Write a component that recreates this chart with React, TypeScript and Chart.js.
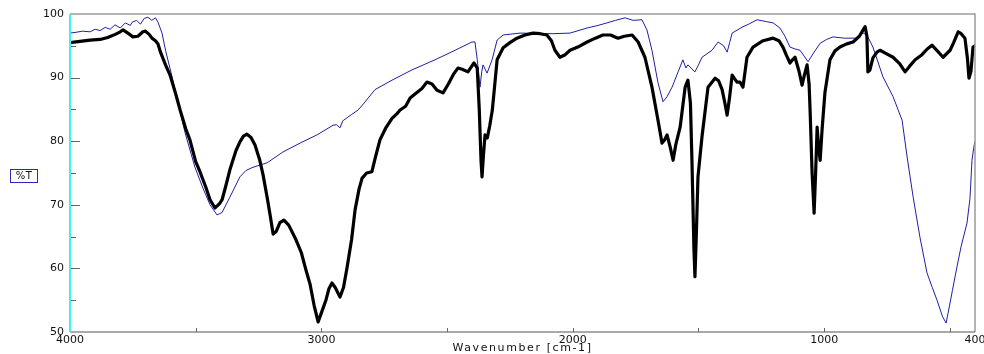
import React, { useEffect, useRef } from "react";
import { Chart, registerables } from "chart.js";

Chart.register(...registerables);

// Wavenumber (cm-1) and transmittance (%T) pairs for the sample spectrum (thick trace)
const sampleWavenumbers = [
  4000, 3960, 3920, 3880, 3850, 3820, 3800, 3789, 3770, 3750, 3730, 3710, 3700, 3685, 3674, 3660, 3650,
  3640, 3620, 3602, 3580, 3562, 3540, 3523, 3500, 3483, 3460, 3443, 3423, 3405, 3395, 3380, 3364, 3340,
  3324, 3310, 3296, 3280, 3264, 3245, 3232, 3215, 3204, 3192, 3180, 3165, 3149, 3130, 3101, 3080, 3061,
  3045, 3029, 3013, 3000, 2982, 2970, 2958, 2945, 2926, 2912, 2898, 2880, 2866, 2850, 2838, 2820, 2799,
  2785, 2767, 2745, 2719, 2700, 2687, 2665, 2647, 2625, 2600, 2580, 2560, 2540, 2516, 2495, 2475, 2457,
  2440, 2417, 2405, 2393, 2380, 2372, 2365, 2361, 2355, 2349, 2340, 2330, 2320, 2301, 2277, 2250, 2222,
  2190, 2158, 2130, 2103, 2085, 2071, 2051, 2030, 2011, 1980, 1943, 1910, 1880, 1850, 1820, 1795, 1764,
  1740, 1713, 1685, 1661, 1645, 1635, 1625, 1612, 1601, 1590, 1573, 1553, 1542, 1532, 1526, 1518, 1514,
  1508, 1502, 1486, 1462, 1434, 1420, 1406, 1395, 1386, 1376, 1366, 1356, 1347, 1335, 1323, 1307, 1283,
  1243, 1203, 1180, 1164, 1150, 1136, 1126, 1116, 1100, 1088, 1078, 1068, 1060, 1056, 1048, 1040, 1034,
  1028, 1022, 1016, 1008, 997, 977, 957, 937, 910, 885, 860, 845, 837, 830, 826, 818, 806, 790, 778, 755,
  726, 700, 678, 660, 638, 611, 590, 571, 550, 527, 499, 485, 467, 455, 440, 430, 424, 416, 408, 400,
];
const sampleTransmittance = [
  95.5, 95.7, 95.9, 96.0, 96.3, 96.8, 97.2, 97.5, 97.0, 96.4, 96.5, 97.2, 97.3, 96.8, 96.2, 95.8, 95.3,
  94.0, 92.0, 90.4, 87.5, 84.9, 82.0, 80.2, 76.8, 75.2, 72.8, 70.8, 69.5, 70.2, 70.8, 73.0, 75.5, 78.5,
  79.9, 80.8, 81.1, 80.6, 79.4, 77.0, 74.7, 71.0, 68.4, 65.4, 65.8, 67.2, 67.6, 66.8, 64.5, 62.5, 59.7,
  57.5, 54.2, 51.6, 53.0, 55.0, 56.8, 57.7, 57.0, 55.5, 57.0, 60.1, 64.5, 69.2, 72.5, 74.2, 75.0, 75.2,
  77.5, 80.2, 82.0, 83.6, 84.3, 84.9, 85.5, 86.8, 87.5, 88.3, 89.3, 89.0, 88.0, 87.6, 89.0, 90.5, 91.5,
  91.3, 90.9, 91.6, 92.3, 91.5, 85.0, 77.0, 74.4, 78.0, 81.0, 80.5, 82.5, 84.9, 92.8, 94.7, 95.5, 96.2,
  96.7, 97.0, 96.9, 96.7, 95.8, 94.3, 93.2, 93.6, 94.3, 94.8, 95.6, 96.2, 96.7, 96.7, 96.2, 96.5, 96.7,
  95.6, 93.2, 88.5, 83.3, 79.7, 80.2, 81.0, 79.0, 77.0, 79.5, 82.2, 88.5, 89.6, 86.0, 77.0, 63.0, 58.7,
  66.0, 74.4, 80.7, 88.5, 89.9, 89.5, 88.1, 86.0, 84.1, 87.0, 90.4, 89.8, 89.3, 89.3, 88.5, 93.2, 94.8,
  95.8, 96.2, 95.8, 94.8, 93.5, 92.3, 92.8, 93.2, 91.0, 88.8, 90.5, 92.0, 89.0, 84.9, 75.0, 68.7, 75.0,
  82.2, 79.0, 77.0, 82.0, 87.6, 92.8, 94.2, 94.8, 95.3, 95.6, 96.5, 97.5, 98.0, 96.5, 90.9, 91.2, 93.1,
  94.0, 94.3, 93.8, 93.2, 92.2, 90.9, 91.8, 92.8, 93.6, 94.5, 95.1, 94.2, 93.2, 94.3, 95.5, 97.2, 96.9,
  96.2, 93.0, 89.9, 91.0, 94.8, 95.0,
];

// Reference spectrum (thin trace)
const referenceWavenumbers = [
  4000, 3980, 3950, 3920, 3900, 3880, 3860, 3840, 3821, 3800, 3780, 3760, 3753, 3735, 3720, 3705, 3690,
  3675, 3660, 3650, 3634, 3620, 3594, 3570, 3542, 3503, 3470, 3443, 3415, 3395, 3364, 3324, 3300, 3272,
  3216, 3153, 3085, 3017, 2954, 2940, 2926, 2915, 2880, 2854, 2830, 2787, 2719, 2640, 2548, 2468, 2401,
  2389, 2380, 2369, 2362, 2357, 2341, 2321, 2301, 2277, 2210, 2079, 2011, 1943, 1900, 1864, 1830, 1792,
  1760, 1725, 1705, 1685, 1661, 1641, 1625, 1605, 1580, 1562, 1550, 1542, 1514, 1500, 1486, 1446, 1422,
  1400, 1386, 1376, 1366, 1323, 1300, 1267, 1230, 1203, 1176, 1156, 1136, 1116, 1096, 1080, 1064, 1040,
  1016, 990, 965, 920, 869, 845, 830, 806, 766, 726, 690, 670, 646, 619, 591, 570, 551, 530, 515, 507,
  490, 472, 455, 432, 420, 412, 405, 400,
];
const referenceTransmittance = [
  97.0, 97.1, 97.3, 97.2, 97.6, 97.4, 97.9, 97.6, 98.3, 97.8, 98.6, 98.2, 98.7, 99.0, 98.4, 99.3, 99.5,
  99.0, 99.4, 98.7, 97.0, 94.3, 90.1, 86.0, 81.3, 75.9, 72.5, 70.0, 68.4, 68.8, 71.2, 74.4, 75.4, 75.9,
  76.6, 78.3, 79.7, 81.0, 82.5, 82.6, 82.1, 83.2, 84.2, 84.9, 86.0, 88.1, 89.6, 91.2, 92.8, 94.3, 95.6,
  95.6, 92.8, 88.5, 91.0, 92.0, 90.7, 92.8, 95.9, 96.7, 97.0, 96.9, 97.0, 97.8, 98.2, 98.6, 99.0, 99.4,
  99.0, 99.1, 97.5, 94.3, 89.2, 86.2, 87.0, 88.5, 91.0, 92.8, 91.5, 92.0, 90.9, 92.0, 93.2, 94.3, 95.6,
  95.0, 94.0, 95.5, 97.0, 98.0, 98.4, 99.1, 98.8, 98.6, 97.8, 96.5, 94.8, 94.5, 94.3, 93.4, 92.5, 94.0,
  95.4, 96.0, 96.4, 96.2, 96.2, 97.0, 96.7, 94.8, 90.1, 87.0, 83.3, 77.5, 71.2, 64.9, 59.3, 57.0, 55.0,
  52.5, 51.4, 53.0, 56.5, 60.2, 63.5, 67.1, 71.0, 77.0, 79.0, 80.0,
];

// Axis ticks
const xTickValues = [4000, 3500, 3000, 2500, 2000, 1500, 1000, 500, 400];
const xTickLabels = [4000, 3000, 2000, 1000, 400];
const yMajorTicks = [50, 60, 70, 80, 90, 100];

const FONT = "'DejaVu Sans', sans-serif";

const toPoints = (xs: number[], ys: number[]) => xs.map((x, i) => ({ x, y: ys[i] }));

// Frame, inward tick marks, axis title and the boxed "%T" label
const framePlugin = {
  id: "spectrumFrame",
  afterDraw(chart: any) {
    const { ctx, chartArea } = chart;
    const { left, right, top, bottom } = chartArea;
    const xs = chart.scales.x;
    const ys = chart.scales.y;
    ctx.save();

    // top and right borders
    ctx.strokeStyle = "#9a9a9a";
    ctx.lineWidth = 1.5;
    ctx.beginPath();
    ctx.moveTo(left, top);
    ctx.lineTo(right, top);
    ctx.lineTo(right, bottom);
    ctx.stroke();

    // bottom axis
    ctx.strokeStyle = "#555";
    ctx.lineWidth = 1.2;
    ctx.beginPath();
    ctx.moveTo(left, bottom);
    ctx.lineTo(right, bottom);
    ctx.stroke();

    // inward tick marks
    ctx.strokeStyle = "#666";
    ctx.lineWidth = 1;
    for (let v = 55; v < 100; v += 5) {
      const y = Math.round(ys.getPixelForValue(v)) + 0.5;
      const len = v % 10 === 0 ? 9 : 5;
      ctx.beginPath();
      ctx.moveTo(left + 1, y);
      ctx.lineTo(left + 1 + len, y);
      ctx.stroke();
    }
    for (const v of xTickValues) {
      if (v === 4000 || v === 400) continue;
      const x = Math.round(xs.getPixelForValue(v)) + 0.5;
      ctx.beginPath();
      ctx.moveTo(x, bottom);
      ctx.lineTo(x, bottom - 4);
      ctx.stroke();
    }

    // left axis line
    ctx.strokeStyle = "#3ff0f0";
    ctx.lineWidth = 2;
    ctx.beginPath();
    ctx.moveTo(left, top);
    ctx.lineTo(left, bottom);
    ctx.stroke();

    // x axis title
    ctx.fillStyle = "#111";
    ctx.font = `11px ${FONT}`;
    (ctx as any).letterSpacing = "1.6px";
    ctx.textAlign = "center";
    ctx.textBaseline = "middle";
    ctx.fillText("Wavenumber [cm-1]", (left + right) / 2, 348);

    // boxed y label
    const midY = ys.getPixelForValue(74.5);
    ctx.strokeStyle = "#2a2ab8";
    ctx.lineWidth = 1;
    ctx.strokeRect(10.5, Math.round(midY) - 6.5, 27, 13);
    ctx.fillStyle = "#111";
    ctx.font = `10px ${FONT}`;
    (ctx as any).letterSpacing = "0.5px";
    ctx.fillText("%T", 24, Math.round(midY) + 0.5);
    ctx.restore();
  },
};

export default function App() {
  const canvasRef = useRef<HTMLCanvasElement | null>(null);

  useEffect(() => {
    document.body.style.margin = "0";
    const canvas = canvasRef.current;
    if (!canvas) return;
    const chart = new Chart(canvas, {
      type: "line",
      data: {
        datasets: [
          {
            label: "Sample",
            data: toPoints(sampleWavenumbers, sampleTransmittance),
            borderColor: "#000000",
            borderWidth: 3.2,
            pointRadius: 0,
            tension: 0,
            borderJoinStyle: "round",
            borderCapStyle: "round",
          },
          {
            label: "Reference",
            data: toPoints(referenceWavenumbers, referenceTransmittance),
            borderColor: "#1f1fa3",
            borderWidth: 1,
            pointRadius: 0,
            tension: 0,
          },
        ],
      },
      options: {
        animation: false,
        responsive: false,
        devicePixelRatio: 1,
        layout: { padding: { left: 0, right: 9, top: 14, bottom: 0 } },
        plugins: {
          legend: { display: false },
          tooltip: { enabled: false },
        },
        scales: {
          x: {
            type: "linear",
            reverse: true,
            min: 400,
            max: 4000,
            border: { display: false },
            grid: { display: false, drawTicks: false },
            afterBuildTicks: (scale: any) => {
              scale.ticks = xTickValues.map((value) => ({ value }));
            },
            afterFit: (scale: any) => {
              scale.height = 22;
              scale.paddingLeft = 0;
              scale.paddingRight = 0;
            },
            ticks: {
              autoSkip: false,
              maxRotation: 0,
              padding: 2,
              color: "#111",
              font: { family: FONT, size: 11 },
              callback: (v: any) => (xTickLabels.includes(Number(v)) ? String(v) : ""),
            },
          },
          y: {
            min: 50,
            max: 100,
            border: { display: false },
            grid: { display: false, drawTicks: false },
            afterBuildTicks: (scale: any) => {
              scale.ticks = yMajorTicks.map((value) => ({ value }));
            },
            afterFit: (scale: any) => {
              scale.width = 70;
              scale.paddingTop = 0;
              scale.paddingBottom = 0;
            },
            ticks: {
              padding: 6,
              color: "#111",
              font: { family: FONT, size: 11 },
              callback: (v: any) => String(v),
            },
          },
        },
      },
      plugins: [framePlugin],
    });
    return () => chart.destroy();
  }, []);

  return (
    <div style={{ width: 984, height: 354, background: "#fff" }}>
      <canvas ref={canvasRef} width={984} height={354} />
    </div>
  );
}
